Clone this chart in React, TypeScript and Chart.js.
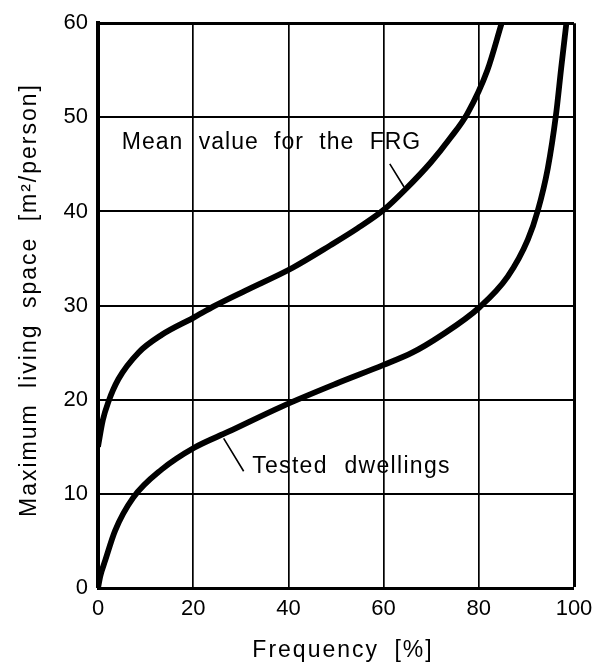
import React, { useEffect, useRef } from 'react';
import { Chart, registerables } from 'chart.js';

Chart.register(...registerables);

// Mean value for the FRG
const meanX = [0, 1, 2.2, 4.3, 8.5, 13.4, 20, 24.6, 31, 40.8, 48.8, 54.5, 60.1, 64.3, 69.9, 74, 77.6, 81.8, 84.8];
const meanY = [15, 17.8, 19.8, 22.2, 25, 26.9, 28.7, 30, 31.6, 34, 36.4, 38.2, 40.2, 42.2, 45.2, 47.8, 50.4, 55, 60];

// Tested dwellings
const testedX = [0, 0.5, 1.5, 3.6, 7.4, 13.4, 20.2, 27.4, 38.7, 50, 60, 66, 72, 80.1, 86.1, 90.3, 92.4, 94.5, 96.2, 97.3, 98.4];
const testedY = [0, 1.3, 2.9, 6.1, 9.6, 12.6, 14.9, 16.6, 19.3, 21.7, 23.7, 25.0, 26.8, 29.8, 33.1, 37.0, 40.1, 44.6, 50.2, 55.2, 60];

const xMin = 0;
const xMax = 100;
const xStep = 20;
const yMin = 0;
const yMax = 60;
const yStep = 10;

const xTitle = 'Frequency [%]';
const yTitle = 'Maximum living space [m²/person]';
const meanLabel = 'Mean value for the FRG';
const testedLabel = 'Tested dwellings';

const FONT = '"Liberation Sans", Arial, sans-serif';

const textPlugin = {
  id: 'textPlugin',
  afterDraw(chart: any) {
    const { ctx, scales } = chart;
    const x = scales.x;
    const y = scales.y;
    ctx.save();
    ctx.fillStyle = '#000';
    ctx.strokeStyle = '#000';
    ctx.font = `23px ${FONT}`;
    (ctx as any).letterSpacing = '1px';
    (ctx as any).wordSpacing = '8px';
    ctx.textAlign = 'left';
    ctx.textBaseline = 'alphabetic';
    ctx.fillText(meanLabel, x.getPixelForValue(5), y.getPixelForValue(46.6));
    (ctx as any).letterSpacing = '1.3px';
    (ctx as any).wordSpacing = '9px';
    ctx.fillText(testedLabel, x.getPixelForValue(32.4), y.getPixelForValue(12.2));

    // leader lines
    ctx.lineWidth = 1.6;
    ctx.beginPath();
    ctx.moveTo(x.getPixelForValue(61.3), y.getPixelForValue(45.05));
    ctx.lineTo(x.getPixelForValue(64.3), y.getPixelForValue(42.6));
    ctx.moveTo(x.getPixelForValue(26.4), y.getPixelForValue(15.9));
    ctx.lineTo(x.getPixelForValue(30.6), y.getPixelForValue(12.4));
    ctx.stroke();

    // axis titles
    (ctx as any).letterSpacing = '2px';
    (ctx as any).wordSpacing = '7px';
    ctx.textAlign = 'center';
    ctx.textBaseline = 'alphabetic';
    ctx.fillText(xTitle, 343, 657);

    ctx.save();
    ctx.translate(36, 300);
    ctx.rotate(-Math.PI / 2);
    ctx.textAlign = 'center';
    ctx.textBaseline = 'alphabetic';
    ctx.fillText(yTitle, 0, 0);
    ctx.restore();

    ctx.restore();
  },
};

export default function App() {
  const ref = useRef<HTMLCanvasElement | null>(null);

  useEffect(() => {
    if (!ref.current) return;
    const chart = new Chart(ref.current, {
      type: 'line',
      data: {
        datasets: [
          {
            label: meanLabel,
            data: meanX.map((v, i) => ({ x: v, y: meanY[i] })),
            borderColor: '#000',
            borderWidth: 5.8,
            pointRadius: 0,
            cubicInterpolationMode: 'monotone',
            fill: false,
          },
          {
            label: testedLabel,
            data: testedX.map((v, i) => ({ x: v, y: testedY[i] })),
            borderColor: '#000',
            borderWidth: 5.8,
            pointRadius: 0,
            cubicInterpolationMode: 'monotone',
            fill: false,
          },
        ],
      },
      options: {
        responsive: false,
        animation: false,
        events: [],
        layout: { padding: { top: 20, right: 21, left: 0, bottom: 0 } },
        plugins: {
          legend: { display: false },
          tooltip: { enabled: false },
          title: { display: false },
        },
        scales: {
          x: {
            type: 'linear',
            min: xMin,
            max: xMax,
            afterFit: (s: any) => {
              s.height = 74;
              s.paddingRight = 0;
              s.paddingLeft = 0;
            },
            ticks: {
              stepSize: xStep,
              color: '#000',
              font: { family: FONT, size: 22 },
              padding: 8,
              maxRotation: 0,
            },
            grid: {
              color: '#000',
              drawTicks: false,
              lineWidth: (c: any) => (c.tick && c.tick.value === xMax ? 3 : c.tick && c.tick.value === xMin ? 0 : 1.7),
            },
            border: { color: '#000', width: 3 },
          },
          y: {
            type: 'linear',
            min: yMin,
            max: yMax,
            afterFit: (s: any) => {
              s.width = 98;
            },
            ticks: {
              stepSize: yStep,
              color: '#000',
              font: { family: FONT, size: 22 },
              padding: 10,
            },
            grid: {
              color: '#000',
              drawTicks: false,
              lineWidth: (c: any) => (c.tick && c.tick.value === yMax ? 3 : c.tick && c.tick.value === yMin ? 0 : 2),
            },
            border: { color: '#000', width: 4 },
          },
        },
      },
      plugins: [textPlugin],
    });
    return () => chart.destroy();
  }, []);

  return (
    <div style={{ position: 'absolute', left: 0, top: 0, width: 595, height: 662, background: '#fff' }}>
      <canvas ref={ref} width={595} height={662} />
    </div>
  );
}
